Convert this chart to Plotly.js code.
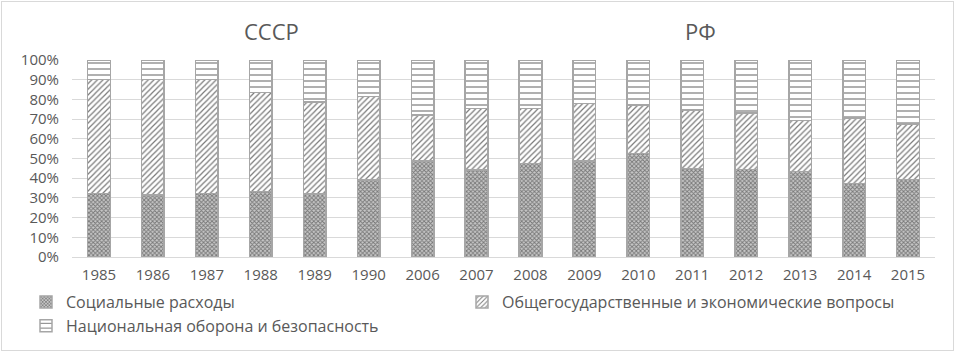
<!DOCTYPE html>
<html>
<head>
<meta charset="utf-8">
<script src="https://cdn.plot.ly/plotly-3.0.1.min.js"></script>
<style>
html,body{margin:0;padding:0;background:#fff;}
#wrap{position:relative;width:957px;height:354px;}
#chart{position:absolute;left:0;top:0;width:957px;height:354px;}
#frame{position:absolute;left:1px;top:1px;width:951px;height:348px;border:1px solid #d9d9d9;pointer-events:none;}
</style>
</head>
<body>
<div id="wrap"><div id="chart"></div><div id="frame"></div></div>
<script>
const years = ['1985','1986','1987','1988','1989','1990','2006','2007','2008','2009','2010','2011','2012','2013','2014','2015'];
const social  = [32.3, 31.5, 32.3, 33.2, 32.0, 39.0, 48.7, 44.2, 47.5, 48.7, 52.6, 45.0, 44.5, 43.3, 37.4, 39.4];
const general = [57.9, 58.5, 57.7, 50.2, 46.8, 42.4, 23.3, 31.3, 28.0, 29.3, 24.6, 29.6, 28.5, 25.9, 33.1, 28.1];
const defense = [9.8, 10.0, 10.0, 16.6, 21.2, 18.6, 28.0, 24.5, 24.5, 22.0, 22.8, 25.4, 27.0, 30.8, 29.5, 32.5];
const names = ['Социальные расходы', 'Общегосударственные и экономические вопросы', 'Национальная оборона и безопасность'];
const titles = ['СССР', 'РФ'];

const lineStyle = {color: '#a6a6a6', width: 1.5};
const traces = [
  {x: years, y: social, name: names[0], type: 'bar', legend: 'legend',
   marker: {color: '#ffffff', line: lineStyle,
     pattern: {shape: 'x', fgcolor: '#777777', bgcolor: '#c8c8c8', size: 3, solidity: 0.5}}},
  {x: years, y: general, name: names[1], type: 'bar', legend: 'legend2',
   marker: {color: '#ffffff', line: lineStyle,
     pattern: {shape: '/', fgcolor: '#7a7a7a', bgcolor: '#ffffff', size: 4, solidity: 0.3}}},
  {x: years, y: defense, name: names[2], type: 'bar', legend: 'legend',
   marker: {color: '#ffffff', line: lineStyle,
     pattern: {shape: '-', fgcolor: '#7a7a7a', bgcolor: '#ffffff', size: 6, solidity: 0.2}}}
];

const font = {family: 'Open Sans, Liberation Sans, sans-serif', color: '#595959', size: 15};
const legFont = {family: 'Open Sans, Liberation Sans, sans-serif', size: 16, color: '#595959'};
const layout = {
  width: 957, height: 354,
  margin: {l: 72, r: 22, t: 60, b: 97, autoexpand: false},
  barmode: 'stack',
  bargap: 0.58,
  paper_bgcolor: '#ffffff', plot_bgcolor: '#ffffff',
  font: font,
  showlegend: true,
  legend: {orientation: 'v', xref: 'container', yref: 'container', x: 26/957, xanchor: 'left', y: 1 - 285/354, yanchor: 'top',
    traceorder: 'normal', font: legFont, itemwidth: 30, tracegroupgap: 0, bgcolor: 'rgba(0,0,0,0)'},
  legend2: {orientation: 'v', xref: 'container', yref: 'container', x: 462/957, xanchor: 'left', y: 1 - 285/354, yanchor: 'top',
    traceorder: 'normal', font: legFont, itemwidth: 30, tracegroupgap: 0, bgcolor: 'rgba(0,0,0,0)'},
  xaxis: {type: 'category', showgrid: false, zeroline: false, showline: true, linecolor: '#d9d9d9', linewidth: 1,
    ticks: '', ticklabelstandoff: 4, tickfont: {size: 15, color: '#595959'}},
  yaxis: {range: [0, 100], dtick: 10, ticksuffix: '%', showgrid: true, gridcolor: '#d9d9d9', gridwidth: 1,
    zeroline: false, showline: false, ticks: '', ticklabelstandoff: 12, tickfont: {size: 15, color: '#595959'}},
  annotations: [
    {text: titles[0], xref: 'paper', yref: 'paper', x: (271-72)/863, y: (257-31)/197, xanchor: 'center', yanchor: 'middle', showarrow: false, font: {size: 22, color: '#595959'}},
    {text: titles[1], xref: 'paper', yref: 'paper', x: (700-72)/863, y: (257-31)/197, xanchor: 'center', yanchor: 'middle', showarrow: false, font: {size: 22, color: '#595959'}}
  ]
};
Plotly.newPlot('chart', traces, layout, {displayModeBar: false, staticPlot: true});
</script>
</body>
</html>
